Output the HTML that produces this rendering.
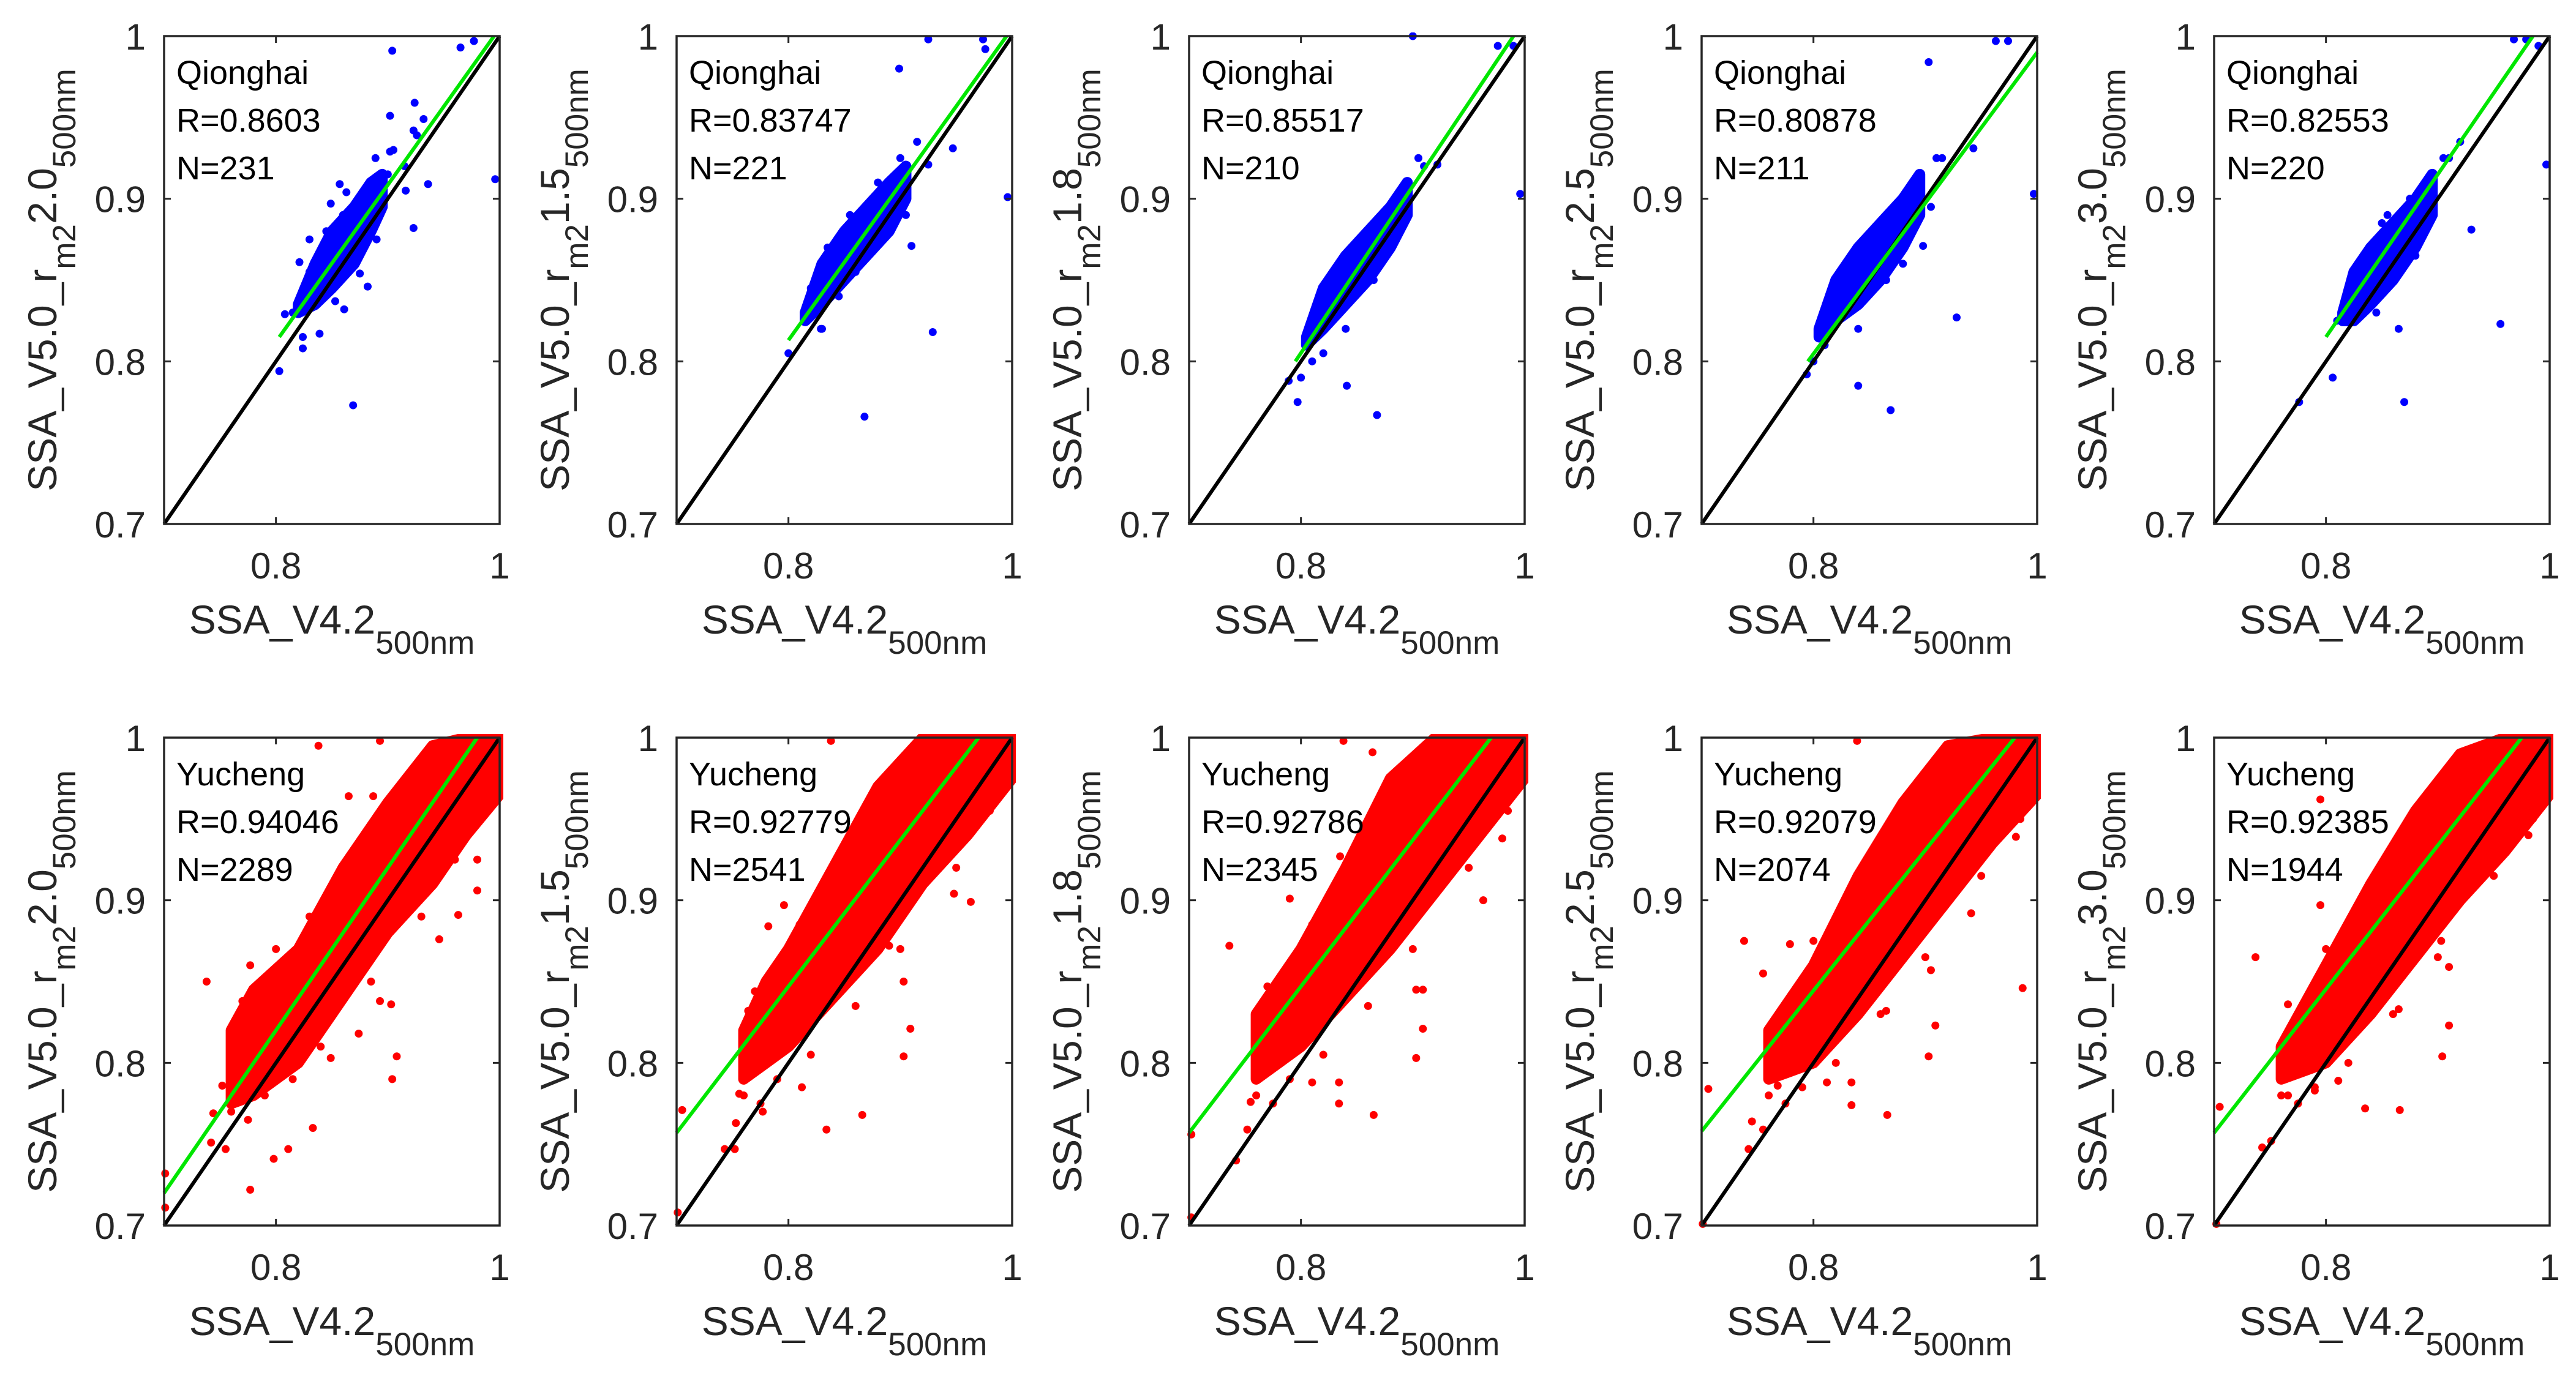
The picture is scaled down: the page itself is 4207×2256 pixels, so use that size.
<!DOCTYPE html>
<html><head><meta charset="utf-8"><style>
html,body{margin:0;padding:0;background:#fff}
svg{display:block}
text{font-family:"Liberation Sans",Arial,sans-serif;fill:#262626}
</style></head><body>
<svg id="fig" width="4207" height="2256" viewBox="0 0 4207 2256" xmlns="http://www.w3.org/2000/svg"></svg>
<script>
// ---- data ----
const variants = ["2.0","1.5","1.8","2.5","3.0"];
const sites = ["Qionghai","Yucheng"];
const rQH = ["0.8603","0.83747","0.85517","0.80878","0.82553"];
const nQH = ["231","221","210","211","220"];
const rYC = ["0.94046","0.92779","0.92786","0.92079","0.92385"];
const nYC = ["2289","2541","2345","2074","1944"];
const xTicks = [0.8, 1];
const xTickLabels = ["0.8","1"];
const yTicks = [0.7, 0.8, 0.9, 1];
const yTickLabels = ["0.7","0.8","0.9","1"];
const fitX0QH = [0.803,0.80,0.795,0.795,0.80];
const fitY0QH = [0.815,0.813,0.80,0.80,0.815];
const fitX1QH = [0.995,0.995,0.99,1.0,0.985];
const fitY1QH = [1.0,1.0,1.0,0.99,1.0];
const fitX0YC = [0.70,0.70,0.70,0.70,0.70];
const fitY0YC = [0.72,0.757,0.757,0.758,0.757];
const fitX1YC = [0.98,0.97,0.97,0.98,0.975];
const fitY1YC = [1.0,1.0,1.0,1.0,1.0];
const coreXQH = [[0.82,0.835,0.85,0.87,0.885,0.895],[0.815,0.83,0.85,0.87,0.89,0.905],[0.805,0.82,0.84,0.86,0.88,0.895],[0.805,0.82,0.84,0.86,0.88,0.895],[0.815,0.825,0.84,0.86,0.88,0.895]];
const coreLoQH = [[0.83,0.835,0.845,0.86,0.88,0.895],[0.825,0.835,0.85,0.865,0.88,0.90],[0.81,0.82,0.835,0.85,0.87,0.89],[0.815,0.825,0.835,0.85,0.87,0.89],[0.825,0.825,0.835,0.85,0.87,0.89]];
const coreHiQH = [[0.835,0.86,0.88,0.895,0.91,0.915],[0.83,0.86,0.88,0.895,0.91,0.92],[0.815,0.845,0.865,0.88,0.895,0.91],[0.82,0.85,0.87,0.885,0.90,0.915],[0.83,0.855,0.87,0.885,0.90,0.915]];
const coreXYC = [[0.76,0.78,0.82,0.86,0.90,0.94,0.97,1.0],[0.76,0.78,0.80,0.84,0.88,0.92,0.96,1.0],[0.76,0.78,0.80,0.84,0.88,0.92,0.96,1.0],[0.76,0.78,0.80,0.84,0.88,0.92,0.96,1.0],[0.76,0.78,0.80,0.84,0.88,0.92,0.96,1.0]];
const coreLoYC = [[0.775,0.78,0.80,0.84,0.88,0.91,0.94,0.965],[0.79,0.80,0.81,0.84,0.87,0.91,0.94,0.975],[0.79,0.80,0.81,0.84,0.87,0.905,0.94,0.975],[0.79,0.795,0.80,0.83,0.865,0.90,0.935,0.965],[0.79,0.795,0.80,0.83,0.865,0.90,0.93,0.965]];
const coreHiYC = [[0.82,0.845,0.87,0.92,0.96,0.995,1.0,1.0],[0.82,0.85,0.87,0.92,0.97,1.0,1.0,1.0],[0.83,0.85,0.87,0.92,0.975,1.0,1.0,1.0],[0.82,0.84,0.86,0.915,0.96,0.995,1.0,1.0],[0.81,0.835,0.86,0.91,0.955,0.99,1.0,1.0]];
const ptXQH = [
 [0.977,0.965,0.904,0.924,0.902,0.932,0.923,0.926,0.902,0.889,0.996,0.936,0.857,0.916,0.863,0.849,0.923,0.890,0.830,0.821,0.875,0.882,0.808,0.824,0.824,0.803,0.869,0.839,0.861,0.853,0.815,0.83,0.845,0.86,0.875,0.90,0.905,0.915,0.84,0.87],
 [0.925,0.974,0.899,0.996,0.929,0.868,0.91,0.829,0.925,0.947,0.80,0.976,0.84,0.87,0.89,0.815,0.82,0.835,0.855,0.88,0.90,0.915,0.86,0.845,0.905,0.83],
 [0.9,0.976,0.99,0.996,0.797,0.868,0.841,0.922,0.885,0.789,0.83,0.86,0.905,0.81,0.80,0.815,0.85,0.875,0.895,0.91,0.84,0.865,0.82,0.88],
 [0.963,0.974,0.903,0.997,0.928,0.869,0.84,0.898,0.794,0.943,0.83,0.86,0.91,0.81,0.80,0.82,0.85,0.875,0.895,0.915,0.84,0.865,0.88,0.905],
 [0.968,0.979,0.99,0.997,0.956,0.870,0.776,0.865,0.93,0.806,0.83,0.85,0.91,0.81,0.82,0.835,0.855,0.875,0.895,0.905,0.845,0.865,0.88,0.92]];
const ptYQH = [
 [0.997,0.993,0.991,0.959,0.951,0.949,0.942,0.939,0.929,0.925,0.912,0.909,0.909,0.905,0.904,0.897,0.882,0.875,0.875,0.861,0.854,0.846,0.829,0.815,0.808,0.794,0.773,0.817,0.832,0.837,0.83,0.855,0.88,0.89,0.90,0.915,0.93,0.92,0.845,0.87],
 [0.998,0.998,0.98,0.901,0.818,0.766,0.871,0.820,0.921,0.931,0.805,0.992,0.86,0.895,0.905,0.83,0.845,0.87,0.89,0.91,0.925,0.935,0.855,0.84,0.89,0.82],
 [1.0,0.994,0.994,0.903,0.775,0.767,0.785,0.921,0.901,0.788,0.835,0.88,0.925,0.80,0.79,0.825,0.86,0.89,0.905,0.92,0.82,0.85,0.805,0.875],
 [0.997,0.997,0.984,0.903,0.827,0.770,0.785,0.871,0.792,0.931,0.84,0.885,0.925,0.81,0.80,0.835,0.87,0.895,0.91,0.925,0.82,0.85,0.86,0.895],
 [0.998,0.998,0.994,0.921,0.823,0.775,0.775,0.820,0.881,0.79,0.845,0.885,0.925,0.825,0.835,0.86,0.89,0.90,0.915,0.925,0.83,0.855,0.865,0.935]];
const ptXYC = [
 [0.838,0.893,0.738,0.777,0.77,0.701,0.701,0.777,0.798,0.811,0.833,0.742,0.755,0.904,0.908,0.946,0.963,0.903,0.893,0.874,0.849,0.752,0.744,0.865,0.887,0.98,0.98,0.76,0.775,0.79,0.815,0.84,0.885,0.93,0.96,0.99,0.80,0.83],
 [0.838,0.705,0.701,0.743,0.752,0.753,0.866,0.834,0.812,0.903,0.909,0.903,0.963,0.948,0.991,0.997,0.89,0.77,0.782,0.796,0.764,0.777,0.756,0.76,0.775,0.79,0.82,0.86,0.90,0.95,0.98,0.81],
 [0.838,0.864,0.702,0.702,0.742,0.752,0.736,0.79,0.834,0.834,0.865,0.903,0.909,0.903,0.909,0.963,0.98,0.995,0.835,0.81,0.77,0.755,0.76,0.775,0.79,0.82,0.86,0.90,0.95,0.985,0.81],
 [0.839,0.706,0.701,0.742,0.745,0.755,0.738,0.755,0.834,0.866,0.834,0.903,0.909,0.987,0.941,0.981,0.998,0.905,0.779,0.865,0.812,0.768,0.76,0.775,0.79,0.82,0.86,0.90,0.95,0.985,0.80],
 [0.705,0.702,0.743,0.751,0.737,0.795,0.835,0.866,0.904,0.91,0.91,0.903,0.981,0.995,0.795,0.865,0.811,0.79,0.766,0.766,0.76,0.775,0.79,0.82,0.86,0.90,0.95,0.985,0.80]];
const ptYYC = [
 [0.995,0.998,0.85,0.86,0.838,0.732,0.711,0.722,0.741,0.747,0.76,0.751,0.747,0.79,0.804,0.876,0.891,0.836,0.838,0.818,0.803,0.786,0.769,0.964,0.964,0.925,0.906,0.77,0.765,0.78,0.79,0.81,0.85,0.89,0.925,0.96,0.87,0.89],
 [0.998,0.771,0.708,0.747,0.747,0.763,0.768,0.759,0.785,0.804,0.821,0.85,0.899,0.904,0.97,0.985,0.872,0.844,0.884,0.897,0.832,0.77,0.781,0.78,0.775,0.79,0.805,0.835,0.87,0.92,0.955,0.885],
 [0.998,0.991,0.705,0.756,0.74,0.759,0.872,0.901,0.788,0.775,0.768,0.803,0.821,0.845,0.845,0.9,0.938,0.984,0.927,0.788,0.847,0.776,0.78,0.775,0.79,0.805,0.835,0.87,0.92,0.955,0.885],
 [0.998,0.784,0.701,0.747,0.764,0.759,0.875,0.855,0.774,0.768,0.788,0.804,0.823,0.846,0.892,0.939,0.969,0.857,0.873,0.832,0.788,0.786,0.78,0.775,0.785,0.80,0.83,0.865,0.915,0.95,0.875],
 [0.773,0.701,0.748,0.752,0.865,0.897,0.772,0.771,0.804,0.823,0.859,0.875,0.94,0.972,0.962,0.833,0.789,0.783,0.78,0.836,0.78,0.775,0.785,0.80,0.83,0.865,0.915,0.95,0.87]];

// ---- layout ----
const NS = "http://www.w3.org/2000/svg";
const svg = document.getElementById("fig");
const PL0 = 268, PDX = 837, PW = 548;
const PT = [59, 1205], PH = 797;
function mk(tag, attrs, parent){
  const e = document.createElementNS(NS, tag);
  for (const k in attrs) e.setAttribute(k, attrs[k]);
  (parent||svg).appendChild(e);
  return e;
}
function drawPanel(row, i){
  const L = PL0 + i*PDX, T = PT[row];
  const sx = v => L + (v-0.7)/0.3*PW;
  const sy = v => T + PH - (v-0.7)/0.3*PH;
  const g = mk("g", {});
  
  
  const cid = "clip"+row+"_"+i;
  const cp = mk("clipPath", {id:cid}, g);
  mk("rect", {x:L-6, y:T-6, width:PW+12, height:PH+12}, cp);
  const color = row===0 ? "#0000ff" : "#ff0000";
  const dg = mk("g", {"clip-path":"url(#"+cid+")"}, g);
  
  
  const cx = row===0?coreXQH[i]:coreXYC[i], lo = row===0?coreLoQH[i]:coreLoYC[i], hi = row===0?coreHiQH[i]:coreHiYC[i];
  let d = "";
  cx.forEach((x,k)=>{ d += (k?"L":"M") + sx(x) + " " + sy(hi[k]) + " "; });
  for (let k=cx.length-1;k>=0;k--) d += "L" + sx(cx[k]) + " " + sy(lo[k]) + " ";
  d += "Z";
  const core = mk("path", {d:d, fill:color, stroke:color, "stroke-width":18, "stroke-linejoin":"round"}, dg);
  
  
  const px = row===0?ptXQH[i]:ptXYC[i], py = row===0?ptYQH[i]:ptYYC[i];
  px.forEach((x,k)=>{
    const c = mk("circle", {cx:sx(x), cy:sy(py[k]), r:6.5, fill:color}, dg);
    
    
  });
  const one = mk("line", {x1:sx(0.7), y1:sy(0.7), x2:sx(1), y2:sy(1), stroke:"#000", "stroke-width":6}, dg);
  
  
  const fx0 = row===0?fitX0QH[i]:fitX0YC[i], fy0 = row===0?fitY0QH[i]:fitY0YC[i];
  const fx1 = row===0?fitX1QH[i]:fitX1YC[i], fy1 = row===0?fitY1QH[i]:fitY1YC[i];
  const fit = mk("line", {x1:sx(fx0), y1:sy(fy0), x2:sx(fx1), y2:sy(fy1), stroke:"#00e600", "stroke-width":6}, dg);
  
  
  const box = mk("rect", {x:L, y:T, width:PW, height:PH, fill:"none", stroke:"#262626", "stroke-width":3.5}, g);
  
  
  xTicks.forEach((v,k)=>{
    mk("line", {x1:sx(v), y1:T+PH, x2:sx(v), y2:T+PH-11, stroke:"#262626", "stroke-width":3}, g);
    mk("line", {x1:sx(v), y1:T, x2:sx(v), y2:T+11, stroke:"#262626", "stroke-width":3}, g);
    const t = mk("text", {x:sx(v), y:T+PH+89, "text-anchor":"middle", "font-size":60}, g);
    t.textContent = xTickLabels[k];
    
    
  });
  yTicks.forEach((v,k)=>{
    mk("line", {x1:L, y1:sy(v), x2:L+11, y2:sy(v), stroke:"#262626", "stroke-width":3}, g);
    mk("line", {x1:L+PW, y1:sy(v), x2:L+PW-11, y2:sy(v), stroke:"#262626", "stroke-width":3}, g);
    const t = mk("text", {x:L-30, y:sy(v)+22, "text-anchor":"end", "font-size":60}, g);
    t.textContent = yTickLabels[k];
    
    
  });
  const ann = [sites[row], "R=" + (row===0?rQH[i]:rYC[i]), "N=" + (row===0?nQH[i]:nYC[i])];
  const annNames = ['site-name','r-value','n-count'];
  ann.forEach((s,k)=>{
    const t = mk("text", {x:L+20, y:T+78+k*78, "font-size":54, style:"fill:#000"}, g);
    t.textContent = s;
    
    
  });
  const xl = mk("text", {x:L+PW/2, y:T+PH+179, "text-anchor":"middle", "font-size":66}, g);
  
  
  const a1 = mk("tspan", {}, xl); a1.textContent = "SSA_V4.2";
  const a2 = mk("tspan", {dy:33, "font-size":53}, xl); a2.textContent = "500nm";
  const cy = T + PH/2, bx = L - 176;
  const yl = mk("text", {x:bx, y:cy, "text-anchor":"middle", "font-size":66, transform:"rotate(-90 "+bx+" "+cy+")"}, g);
  
  
  const b1 = mk("tspan", {}, yl); b1.textContent = "SSA_V5.0_r";
  const b2 = mk("tspan", {dy:31, "font-size":53}, yl); b2.textContent = "m2";
  const b3 = mk("tspan", {dy:-31}, yl); b3.textContent = variants[i];
  const b4 = mk("tspan", {dy:31, "font-size":53}, yl); b4.textContent = "500nm";
}
for (let r=0;r<2;r++) for (let i=0;i<5;i++) drawPanel(r,i);
</script>
</body></html>
